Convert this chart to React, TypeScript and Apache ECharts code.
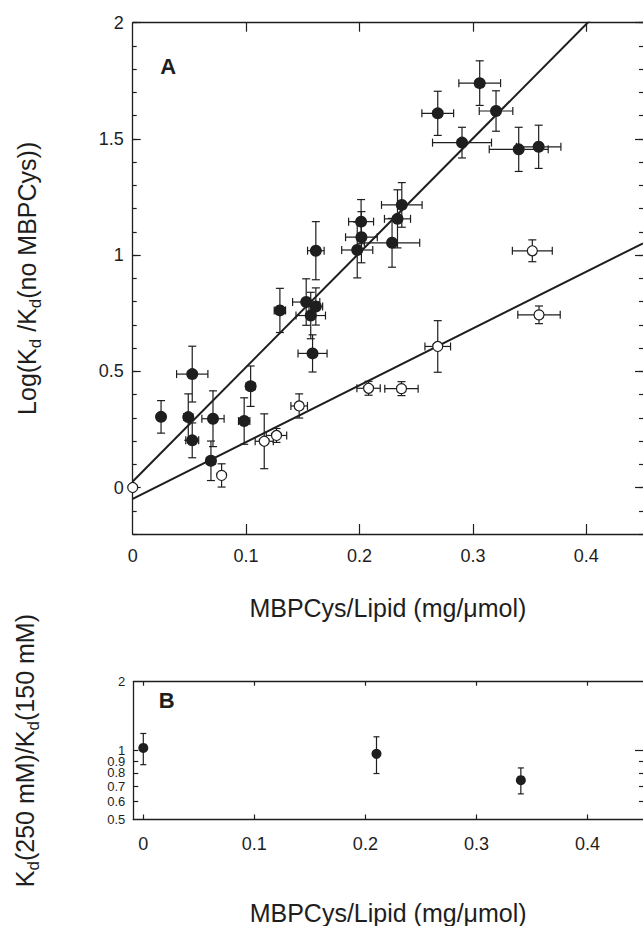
import React, { useEffect, useRef } from 'react';
import * as echarts from 'echarts';

const FONT = '"Liberation Sans", Arial, Helvetica, sans-serif';
const INK = '#1e1e1e';

// ---------- Panel A data ----------
const filledX = [0.025, 0.0525, 0.049, 0.0525, 0.0708, 0.069, 0.0983, 0.104, 0.1298, 0.153, 0.157, 0.1615, 0.1586, 0.1615, 0.2014, 0.2017, 0.198, 0.2287, 0.2335, 0.2373, 0.269, 0.2904, 0.306, 0.3204, 0.3404, 0.358];
const filledY = [0.304, 0.488, 0.303, 0.203, 0.296, 0.115, 0.286, 0.436, 0.762, 0.798, 0.74, 0.779, 0.577, 1.019, 1.144, 1.077, 1.022, 1.053, 1.156, 1.216, 1.61, 1.484, 1.74, 1.62, 1.455, 1.466];
const filledXErr = [0, 0.0138, 0.004, 0.0057, 0.0098, 0.004, 0.005, 0.004, 0.005, 0.012, 0.013, 0.006, 0.0128, 0.0073, 0.011, 0.014, 0.0137, 0.0244, 0.0115, 0.0179, 0.014, 0.026, 0.0184, 0.0148, 0.026, 0.0196];
const filledYErr = [0.07, 0.12, 0.1, 0.075, 0.12, 0.085, 0.1, 0.087, 0.095, 0.1, 0.1, 0.08, 0.08, 0.125, 0.095, 0.11, 0.12, 0.105, 0.125, 0.096, 0.095, 0.066, 0.096, 0.087, 0.095, 0.093];

const openX = [0, 0.0784, 0.116, 0.1268, 0.1468, 0.208, 0.237, 0.269, 0.3524, 0.3583];
const openY = [0, 0.052, 0.199, 0.224, 0.351, 0.427, 0.4255, 0.607, 1.0186, 0.743];
const openXErr = [0, 0, 0.008, 0.009, 0.0073, 0.0103, 0.0147, 0.0113, 0.0176, 0.0187];
const openYErr = [0, 0.05, 0.118, 0.03, 0.052, 0.03, 0.03, 0.111, 0.047, 0.038];

const fitFilled = { slope: 4.92, intercept: 0.026 };
const fitOpen = { slope: 2.444, intercept: -0.049 };

const xTickValues = [0, 0.1, 0.2, 0.3, 0.4];
const yLabelsA = [0, 0.5, 1, 1.5, 2];

// ---------- Panel B data ----------
const bX = [0, 0.21, 0.34];
const bRatio = [1.027, 0.968, 0.743];
const bLow = [0.868, 0.794, 0.647];
const bHigh = [1.188, 1.149, 0.84];
const yLabelsB = [0.5, 0.6, 0.7, 0.8, 0.9, 1, 2];
const yMinorTicksB = [0.6, 0.7, 0.8, 0.9];
const yMajorTicksB = [1];

const lg = (v: number) => Math.log10(v);

const makeErrRender = (cap: number) => (params: any, api: any) => {
  const x = api.value(0);
  const y = api.value(1);
  const xl = api.value(2);
  const xh = api.value(3);
  const yl = api.value(4);
  const yh = api.value(5);
  const style = { stroke: INK, lineWidth: 1.2 };
  const children: any[] = [];
  if (yh > yl) {
    const p1 = api.coord([x, yl]);
    const p2 = api.coord([x, yh]);
    children.push({ type: 'line', shape: { x1: p1[0], y1: p1[1], x2: p2[0], y2: p2[1] }, style });
    children.push({ type: 'line', shape: { x1: p1[0] - cap, y1: p1[1], x2: p1[0] + cap, y2: p1[1] }, style });
    children.push({ type: 'line', shape: { x1: p2[0] - cap, y1: p2[1], x2: p2[0] + cap, y2: p2[1] }, style });
  }
  if (xh > xl) {
    const p1 = api.coord([xl, y]);
    const p2 = api.coord([xh, y]);
    children.push({ type: 'line', shape: { x1: p1[0], y1: p1[1], x2: p2[0], y2: p2[1] }, style });
    children.push({ type: 'line', shape: { x1: p1[0], y1: p1[1] - cap, x2: p1[0], y2: p1[1] + cap }, style });
    children.push({ type: 'line', shape: { x1: p2[0], y1: p2[1] - cap, x2: p2[0], y2: p2[1] + cap }, style });
  }
  return { type: 'group', children };
};

const errData = (xs: number[], ys: number[], xe: number[], ye: number[]) =>
  xs.map((x, i) => [x, ys[i], x - xe[i], x + xe[i], ys[i] - ye[i], ys[i] + ye[i]]);

const axisLine = { show: true, onZero: false, lineStyle: { color: INK, width: 1.3 } };
const tickStyle = { color: INK, width: 1.2 };
const labelBase = { color: INK, fontFamily: FONT };

const titleRich = {
  a: { fontSize: 25, fontFamily: FONT, color: INK, lineHeight: 34 },
  s: { fontSize: 17, fontFamily: FONT, color: INK, lineHeight: 17, verticalAlign: 'bottom' },
};

export default function App() {
  const ref = useRef<HTMLDivElement>(null);

  useEffect(() => {
    if (!ref.current) return;
    const chart = echarts.init(ref.current, undefined, { renderer: 'svg' });

    const option: any = {
      animation: false,
      backgroundColor: '#ffffff',
      grid: [
        { left: 132.7, top: 22.7, width: 511, height: 511.3 },
        { left: 133.3, top: 681.7, width: 510.5, height: 140 },
      ],
      xAxis: [
        {
          gridIndex: 0, type: 'value', position: 'bottom', min: 0, max: 0.45,
          axisLine, splitLine: { show: false },
          axisTick: { show: true, inside: true, length: 10, lineStyle: tickStyle, customValues: [0.1, 0.2, 0.3, 0.4] },
          axisLabel: { ...labelBase, fontSize: 18, margin: 13, customValues: xTickValues },
          name: 'MBPCys/Lipid (mg/\u03bcmol)', nameLocation: 'middle', nameGap: 74,
          nameTextStyle: { fontSize: 25, fontFamily: FONT, color: INK, verticalAlign: 'middle', align: 'center' },
        },
        {
          gridIndex: 0, type: 'value', position: 'top', min: 0, max: 0.45,
          axisLine, splitLine: { show: false },
          axisTick: { show: true, inside: true, length: 9, lineStyle: tickStyle, customValues: [0.1, 0.2, 0.3, 0.4] },
          axisLabel: { show: false },
        },
        {
          gridIndex: 1, type: 'value', position: 'bottom', min: -0.009, max: 0.45,
          axisLine, splitLine: { show: false },
          axisTick: { show: true, inside: true, length: 5, lineStyle: tickStyle, customValues: xTickValues },
          axisLabel: { ...labelBase, fontSize: 18, margin: 15, customValues: xTickValues },
          name: 'MBPCys/Lipid (mg/\u03bcmol)', nameLocation: 'middle', nameGap: 93,
          nameTextStyle: { fontSize: 25, fontFamily: FONT, color: INK, verticalAlign: 'middle', align: 'center' },
        },
        {
          gridIndex: 1, type: 'value', position: 'top', min: -0.009, max: 0.45,
          axisLine, splitLine: { show: false },
          axisTick: { show: true, inside: true, length: 4, lineStyle: tickStyle, customValues: xTickValues },
          axisLabel: { show: false },
        },
      ],
      yAxis: [
        {
          gridIndex: 0, type: 'value', position: 'left', min: -0.2, max: 2, interval: 0.1,
          axisLine, splitLine: { show: false },
          axisTick: { show: true, inside: true, length: 4, lineStyle: tickStyle },
          axisLabel: { ...labelBase, fontSize: 18, margin: 9, customValues: yLabelsA },
          name: '{a|Log(K}{s|d}{a| /K}{s|d}{a|(no MBPCys))}', nameLocation: 'middle', nameGap: 105.7, nameRotate: 90,
          nameTextStyle: { verticalAlign: 'middle', align: 'center', rich: titleRich },
        },
        {
          gridIndex: 0, type: 'value', position: 'left', min: -0.2, max: 2,
          axisLine: { show: false, onZero: false }, splitLine: { show: false },
          axisTick: { show: true, inside: true, length: 8, lineStyle: tickStyle, customValues: yLabelsA },
          axisLabel: { show: false },
        },
        {
          gridIndex: 0, type: 'value', position: 'right', min: -0.2, max: 2, interval: 0.1,
          axisLine: { show: false, onZero: false }, splitLine: { show: false },
          axisTick: { show: true, inside: true, length: 4, lineStyle: tickStyle },
          axisLabel: { show: false },
        },
        {
          gridIndex: 0, type: 'value', position: 'right', min: -0.2, max: 2,
          axisLine: { show: false, onZero: false }, splitLine: { show: false },
          axisTick: { show: true, inside: true, length: 8, lineStyle: tickStyle, customValues: yLabelsA },
          axisLabel: { show: false },
        },
        {
          gridIndex: 1, type: 'value', position: 'left', min: lg(0.5), max: lg(2),
          axisLine, splitLine: { show: false },
          axisTick: { show: true, inside: true, length: 5, lineStyle: tickStyle, customValues: [...yMajorTicksB, ...yMinorTicksB].map(lg) },
          axisLabel: {
            ...labelBase, fontSize: 13, lineHeight: 10, margin: 8,
            showMinLabel: true, showMaxLabel: true, hideOverlap: false,
            customValues: yLabelsB.map(lg),
            formatter: (v: number) => String(parseFloat(Math.pow(10, v).toFixed(2))),
          },
          name: '{a|K}{s|d}{a|(250 mM)/K}{s|d}{a|(150 mM)}', nameLocation: 'middle', nameGap: 108.3, nameRotate: 90,
          nameTextStyle: { verticalAlign: 'middle', align: 'center', rich: titleRich },
        },
        {
          gridIndex: 1, type: 'value', position: 'right', min: lg(0.5), max: lg(2),
          axisLine: { show: false, onZero: false }, splitLine: { show: false },
          axisTick: { show: true, inside: true, length: 4, lineStyle: tickStyle, customValues: yMinorTicksB.map(lg) },
          axisLabel: { show: false },
        },
        {
          gridIndex: 1, type: 'value', position: 'right', min: lg(0.5), max: lg(2),
          axisLine: { show: false, onZero: false }, splitLine: { show: false },
          axisTick: { show: true, inside: true, length: 8, lineStyle: tickStyle, customValues: yMajorTicksB.map(lg) },
          axisLabel: { show: false },
        },
      ],
      graphic: [
        { type: 'text', x: 168.3, y: 66.7, style: { text: 'A', fontSize: 22, fontWeight: 'bold', fontFamily: FONT, fill: INK, align: 'center', verticalAlign: 'middle' } },
        { type: 'text', x: 166.7, y: 700, style: { text: 'B', fontSize: 22, fontWeight: 'bold', fontFamily: FONT, fill: INK, align: 'center', verticalAlign: 'middle' } },
      ],
      series: [
        {
          type: 'line', xAxisIndex: 0, yAxisIndex: 0, showSymbol: false, silent: true, clip: true,
          lineStyle: { color: INK, width: 2 },
          data: [[0, fitFilled.intercept], [0.45, fitFilled.intercept + fitFilled.slope * 0.45]],
          z: 2,
        },
        {
          type: 'line', xAxisIndex: 0, yAxisIndex: 0, showSymbol: false, silent: true, clip: true,
          lineStyle: { color: INK, width: 2 },
          data: [[0, fitOpen.intercept], [0.45, fitOpen.intercept + fitOpen.slope * 0.45]],
          z: 2,
        },
        {
          type: 'custom', xAxisIndex: 0, yAxisIndex: 0, silent: true,
          renderItem: makeErrRender(4),
          encode: { x: 0, y: 1 },
          data: errData(filledX, filledY, filledXErr, filledYErr),
          z: 3,
        },
        {
          type: 'custom', xAxisIndex: 0, yAxisIndex: 0, silent: true,
          renderItem: makeErrRender(4),
          encode: { x: 0, y: 1 },
          data: errData(openX, openY, openXErr, openYErr),
          z: 3,
        },
        {
          type: 'scatter', xAxisIndex: 0, yAxisIndex: 0, symbol: 'circle', symbolSize: 12, silent: true,
          itemStyle: { color: INK, opacity: 1 },
          data: filledX.map((x, i) => [x, filledY[i]]),
          z: 5,
        },
        {
          type: 'scatter', xAxisIndex: 0, yAxisIndex: 0, symbol: 'circle', symbolSize: 10, silent: true,
          itemStyle: { color: '#ffffff', borderColor: INK, borderWidth: 1.2, opacity: 1 },
          data: openX.map((x, i) => [x, openY[i]]),
          z: 5,
        },
        {
          type: 'custom', xAxisIndex: 2, yAxisIndex: 4, silent: true,
          renderItem: makeErrRender(3),
          encode: { x: 0, y: 1 },
          data: bX.map((x, i) => [x, lg(bRatio[i]), x, x, lg(bLow[i]), lg(bHigh[i])]),
          z: 3,
        },
        {
          type: 'scatter', xAxisIndex: 2, yAxisIndex: 4, symbol: 'circle', symbolSize: 10, silent: true,
          itemStyle: { color: INK, opacity: 1 },
          data: bX.map((x, i) => [x, lg(bRatio[i])]),
          z: 5,
        },
      ],
    };

    chart.setOption(option);
    return () => chart.dispose();
  }, []);

  return (
    <div
      ref={ref}
      style={{ position: 'absolute', left: 0, top: 0, width: 643, height: 926, background: '#fff' }}
    />
  );
}
